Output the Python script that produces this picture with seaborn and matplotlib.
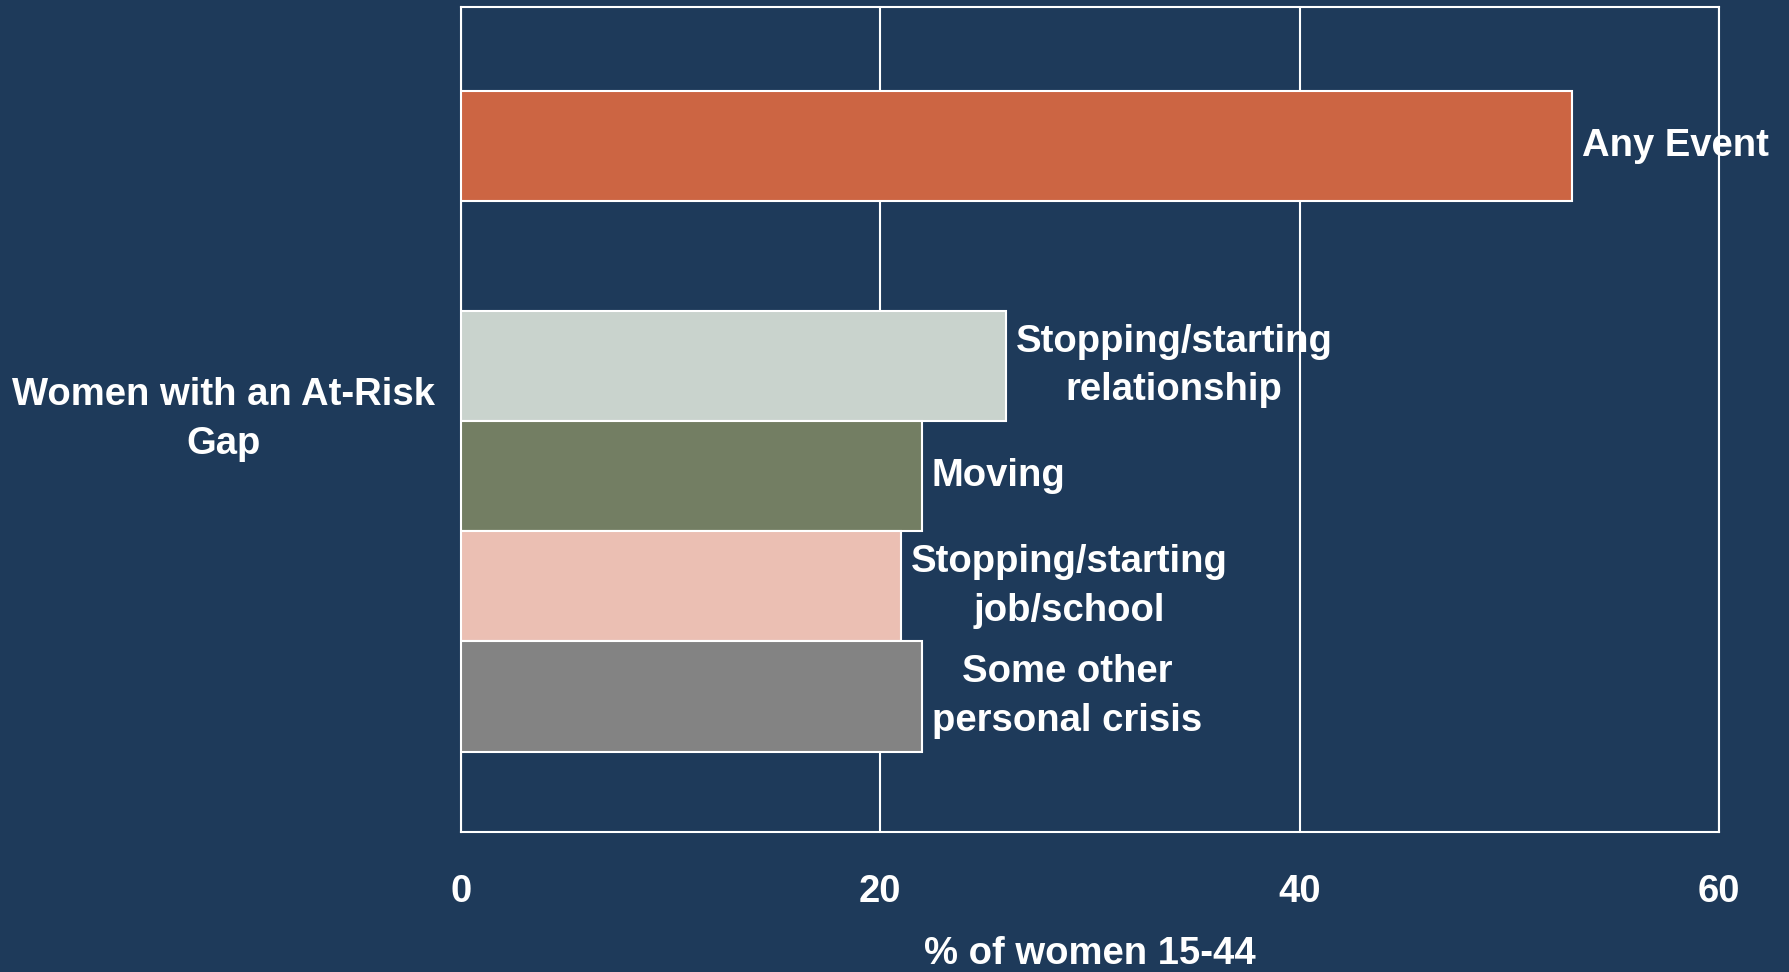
import pandas as pd
import matplotlib.pyplot as plt
import seaborn as sns

# --- dados ---
categorias = [
    "Any Event",
    "Stopping/starting\nrelationship",
    "Moving",
    "Stopping/starting\njob/school",
    "Some other\npersonal crisis",
]
valores = [53, 26, 22, 21, 22]
cores = ["#CC6543", "#C9D3CD", "#737E63", "#EBBFB3", "#838383"]
ticks_x = [0, 20, 40, 60]
rotulo_grupo = "Women with an At-Risk\nGap"
rotulo_x = "% of women 15-44"

FUNDO = "#1E3A5A"
BRANCO = "white"

sns.set_style("white")
plt.rcParams['font.family'] = ['Liberation Sans', 'DejaVu Sans']
plt.rcParams['font.weight'] = 'bold'
plt.rcParams['font.size'] = 27.5

df = pd.DataFrame({"categoria": categorias, "valor": valores})
# espaço vazio entre "Any Event" e os demais
ordem = [categorias[0], ""] + categorias[1:]

fig = plt.figure(figsize=(17.9, 9.72), dpi=100, facecolor=FUNDO)
ax = fig.add_axes([0.2575, 0.144, 0.7028, 0.8488])
ax.set_facecolor(FUNDO)

sns.barplot(data=df, x="valor", y="categoria", order=ordem, hue="categoria",
            palette=dict(zip(categorias, cores)), saturation=1, legend=False,
            width=1.0, edgecolor=BRANCO, linewidth=1.5, orient="h", ax=ax,
            zorder=3)

ax.set_xlim(0, 60)
ax.set_ylim(6.23, -1.26)
ax.set_xticks(ticks_x)
ax.set_xticklabels([str(t) for t in ticks_x], color=BRANCO, fontweight='bold')
ax.tick_params(axis='x', length=0, pad=30)
ax.set_yticks([])

ax.grid(axis='x', color=BRANCO, linewidth=1.5, zorder=0)
ax.grid(axis='y', visible=False)
for lado in ax.spines.values():
    lado.set_visible(True)
    lado.set_color(BRANCO)
    lado.set_linewidth(1.5)

ax.set_xlabel(rotulo_x, color=BRANCO, fontweight='bold', labelpad=19)
ax.set_ylabel(rotulo_grupo, color=BRANCO, fontweight='bold', rotation=0,
              ha='center', va='center', multialignment='center',
              linespacing=1.45)
ax.yaxis.set_label_coords(-0.189, 0.5)

for cat, v in zip(categorias, valores):
    ax.annotate(cat, xy=(v, ordem.index(cat)), xytext=(7, 0),
                textcoords='offset points', ha='left', va='center',
                multialignment='center', linespacing=1.45, color=BRANCO,
                fontweight='bold', zorder=5)

plt.savefig("out.png", dpi=100, facecolor=FUNDO)
